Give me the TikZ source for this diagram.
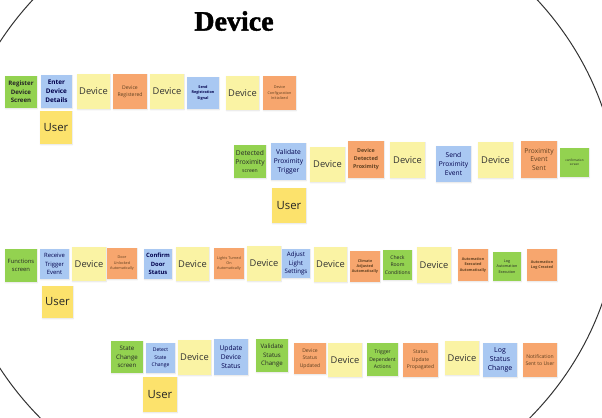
\documentclass[tikz,border=0pt]{standalone}
\usepackage{fontspec}
\setsansfont{Open Sans}
\newfontfamily\titlefont[FakeBold=1.6]{Liberation Serif}
\usepackage{tikz}
\usetikzlibrary{shadows.blur}
\definecolor{stickygreen}{HTML}{93D250}
\definecolor{stickyblue}{HTML}{A9C8F2}
\definecolor{stickyyellow}{HTML}{FAF3A4}
\definecolor{stickyorange}{HTML}{F7A66E}
\definecolor{stickyuser}{HTML}{FCE26C}
\definecolor{rimgray}{HTML}{333333}
\tikzset{
  note/.style={align=center, inner sep=0.5pt, font=\sffamily\fontsize{5}{6.6}\selectfont,
    blur shadow={shadow xshift=0.3pt, shadow yshift=-0.6pt, shadow opacity=12, shadow blur radius=0.8pt}},
  wh/.style 2 args={minimum width=#1*0.75pt, minimum height=#2*0.75pt},
  grn/.style={note, fill=stickygreen, text=black!85},
  blu/.style={note, fill=stickyblue, text=blue!30!black},
  dev/.style={note, fill=stickyyellow, text=black!80, font=\sffamily\fontsize{7}{8}\selectfont},
  evt/.style={note, fill=stickyorange, text=brown!50!black},
  usr/.style={note, fill=stickyuser, text=black!85, font=\sffamily\fontsize{8.5}{10}\selectfont},
  txtS/.style={font=\sffamily\fontsize{3.8}{5.6}\selectfont},
  txtT/.style={font=\sffamily\fontsize{2.8}{4.1}\selectfont},
  txtTB/.style={font=\sffamily\bfseries\fontsize{2.8}{4.1}\selectfont}
}

\begin{document}
\begin{tikzpicture}[x=0.75pt,y=0.75pt,yscale=-1,xscale=1]
        \useasboundingbox (0,0) rectangle (602,417);
        \clip (0,0) rectangle (602,417);

        %Shape: Ellipse
        \draw [color=rimgray, line width=0.75] (285,205) ellipse [x radius=334, y radius=313];

        % Text Node
        \node (title) at (234,21) {\titlefont\fontsize{21}{24}\selectfont\bfseries Device};

        %Row: register device
        \node [grn, wh={32}{32}, font=\sffamily\bfseries\fontsize{4.6}{6.3}\selectfont] (regscr) at (21,92) {Register\\Device\\Screen};
        \node [blu, wh={31}{33}, font=\sffamily\bfseries\fontsize{4.8}{6.6}\selectfont] (enterdet) at (56.5,91.5) {Enter\\Device\\Details};
        \node [dev, wh={33}{35}] (dev1) at (93.5,91.5) {Device};
        \node [evt, wh={34}{35}, txtS] (devreg) at (130,91.5) {Device\\Registered};
        \node [dev, wh={34}{35}] (dev2) at (167,91.5) {Device};
        \node [blu, wh={32}{32}, txtTB] (sendreg) at (203,93) {Send\\Registration\\Signal};
        \node [dev, wh={33}{34}] (dev3) at (242.5,93) {Device};
        \node [evt, wh={33}{34}, txtT] (devcfg) at (279.5,93) {Device\\Configuration\\Initialized};
        \node [usr, wh={32}{33}] (user1) at (56,127.5) {User};

        %Row: proximity
        \node [grn, wh={32}{33}] (proxscr) at (250,161.5) {Detected\\Proximity\\{\fontsize{3.8}{4.5}\selectfont screen}};
        \node [blu, wh={35}{37}] (valprox) at (288.5,161.5) {Validate\\Proximity\\Trigger};
        \node [dev, wh={35}{35}] (dev4) at (327.5,164.5) {Device};
        \node [evt, wh={36}{37}, font=\sffamily\bfseries\fontsize{4}{6}\selectfont] (detprox) at (366,159.5) {Device\\Detected\\Proximity};
        \node [dev, wh={35}{36}] (dev5) at (407.5,160) {Device};
        \node [blu, wh={35}{36}] (sendprox) at (453.5,164) {Send\\Proximity\\Event};
        \node [dev, wh={35}{36}] (dev6) at (495.5,160) {Device};
        \node [evt, wh={36}{37}] (proxsent) at (539,159.5) {Proximity\\Event\\Sent};
        \node [grn, wh={29}{29}, font=\sffamily\fontsize{2.3}{3.2}\selectfont] (confscr) at (574.5,162.5) {confirmation\\screen};
        \node [usr, wh={34}{35}] (user2) at (289,205.5) {User};

        %Row: automation
        \node [grn, wh={32}{33}, font=\sffamily\fontsize{4.4}{6.2}\selectfont] (funcscr) at (21,265.5) {Functions\\screen};
        \node [blu, wh={29}{30}, font=\sffamily\fontsize{4.4}{6.2}\selectfont] (recvtrig) at (54.5,264) {Receive\\Trigger\\Event};
        \node [dev, wh={34}{34}] (dev7) at (89,264) {Device};
        \node [evt, wh={30}{31}, txtT] (doorunl) at (122,263.5) {Door\\Unlocked\\Automatically};
        \node [blu, wh={28}{30}, font=\sffamily\bfseries\fontsize{4.4}{6.4}\selectfont] (confdoor) at (158,264) {Confirm\\Door\\Status};
        \node [dev, wh={33}{34}] (dev8) at (192.5,264) {Device};
        \node [evt, wh={30}{31}, txtT] (lights) at (229,263.5) {Lights Turned\\On\\Automatically};
        \node [dev, wh={34}{35}] (dev9) at (264,263.5) {Device};
        \node [blu, wh={28}{29}, font=\sffamily\fontsize{4.6}{6.3}\selectfont] (adjlight) at (296,263.5) {Adjust\\Light\\Settings};
        \node [dev, wh={33}{35}] (dev10) at (330.5,264.5) {Device};
        \node [evt, wh={30}{31}, txtTB] (climate) at (365,266.5) {Climate\\Adjusted\\Automatically};
        \node [grn, wh={29}{30}, txtS] (checkroom) at (397.5,265) {Check\\Room\\Conditions};
        \node [dev, wh={34}{36}] (dev11) at (434,265) {Device};
        \node [evt, wh={30}{32}, txtTB] (autoexec) at (473,265) {Automation\\Executed\\Automatically};
        \node [grn, wh={28}{29}, txtT] (logauto) at (507,266.5) {Log\\Automation\\Execution};
        \node [evt, wh={30}{32}, txtTB] (autolog) at (542,265) {Automation\\Log Created};
        \node [usr, wh={31}{32}] (user3) at (57.5,302) {User};

        %Row: state change
        \node [grn, wh={32}{32}, font=\sffamily\fontsize{4.6}{6.6}\selectfont] (statescr) at (127,357) {State\\Change\\screen};
        \node [blu, wh={29}{30}, txtS] (detstate) at (160.5,358) {Detect\\State\\Change};
        \node [dev, wh={33}{35}] (dev12) at (194.5,357.5) {Device};
        \node [blu, wh={34}{36}] (upddev) at (231,357) {Update\\Device\\Status};
        \node [grn, wh={32}{33}, font=\sffamily\fontsize{4.6}{6.6}\selectfont] (valstat) at (272,355.5) {Validate\\Status\\Change};
        \node [evt, wh={32}{31}, txtS] (statupd) at (310,358.5) {Device\\Status\\Updated};
        \node [dev, wh={34}{34}] (dev13) at (345,360) {Device};
        \node [grn, wh={31}{33}, txtS] (trigdep) at (382.5,359.5) {Trigger\\Dependent\\Actions};
        \node [evt, wh={35}{34}, txtS] (propag) at (420.5,360) {Status\\Update\\Propagated};
        \node [dev, wh={34}{34}] (dev14) at (462,358) {Device};
        \node [blu, wh={34}{34}, font=\sffamily\fontsize{5.2}{7}\selectfont] (logstat) at (500,360) {Log\\Status\\Change};
        \node [evt, wh={34}{34}, txtS] (notif) at (540,360) {Notification\\Sent to User};
        \node [usr, wh={34}{35}] (user4) at (160,394.5) {User};

\end{tikzpicture}
\end{document}
